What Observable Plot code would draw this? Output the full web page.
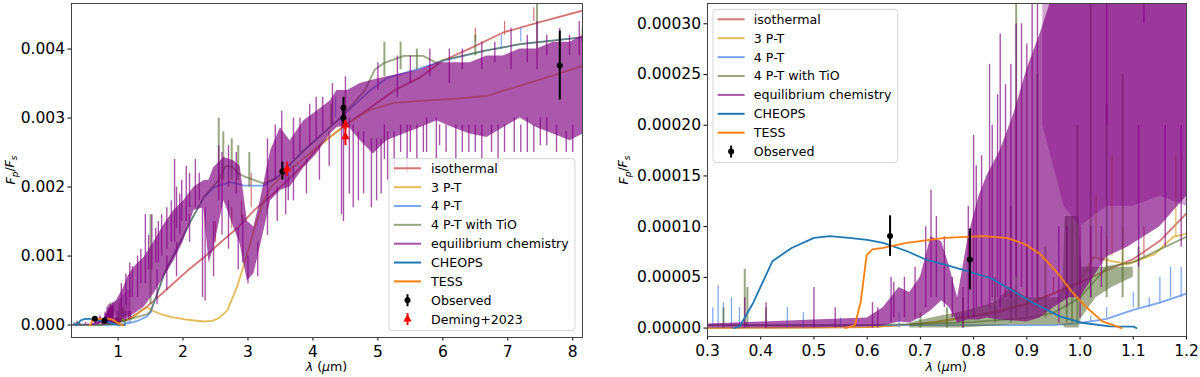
<!DOCTYPE html>
<html><head><meta charset="utf-8">
<script src="https://cdn.jsdelivr.net/npm/d3@7"></script>
<script src="https://cdn.jsdelivr.net/npm/@observablehq/plot@0.6"></script>
<style>
html,body{margin:0;padding:0;background:#fff;}
#wrap{position:relative;width:1200px;height:377px;overflow:hidden;font-family:"DejaVu Sans";}
#wrap svg{position:absolute;top:0;}
</style></head><body><div id="wrap"></div>
<script>
// ---------- data ----------
const legendLabels = ["isothermal","3 P-T","4 P-T","4 P-T with TiO","equilibrium chemistry","CHEOPS","TESS","Observed","Deming+2023"];

const isoX = [0.3,0.6,0.663,0.73,0.79,0.85,0.9,0.95,1.0,1.05,1.1,1.15,1.2,1.3,1.42,1.55,1.81,2.07,2.32,2.58,2.84,3.09,3.35,3.6,3.86,4.12,4.5,4.88,5.25,5.65,6.0,6.42,6.93,7.45,8.16];
const isoY = [0,0.000001,0.0000026,0.000006,0.000011,0.000016,0.000024,0.000034,0.000045,0.000057,0.000068,0.000086,0.000113,0.00017,0.00025,0.00035,0.00057,0.00079,0.00098,0.0012,0.00141,0.00166,0.00187,0.00209,0.00233,0.00262,0.0029,0.00315,0.0034,0.00359,0.00383,0.00401,0.00424,0.00438,0.00456];
const isoSpX  = [0.9,0.95,1.0,1.05,1.12,2.5,2.75,2.9,3.05,6.5,6.95,7.4];
const isoSpLo = [0.000024,0.000034,0.000045,0.000057,0.00007,0.0012,0.0014,0.0015,0.0017,0.0041,0.0042,0.0044];
const isoSpHi = [0.00004,0.00005,0.00007,0.00009,0.0001,0.0015,0.0017,0.0018,0.0022,0.0043,0.0044,0.0046];

const tptX = [0.3,0.6,0.7,0.8,0.9,0.95,1.0,1.025,1.06,1.09,1.14,1.175,1.2,1.25,1.35,1.45,1.55,1.68,1.81,2.07,2.32,2.45,2.55,2.68,2.83,2.94,3.1,3.24,3.35,3.6,3.86,4.12,4.5,4.88,5.25,5.65,6.2,6.68,7.19,7.7,8.16];
const tptY = [0,0.000001,0.000004,0.000012,0.000024,0.000034,0.000046,0.00007,0.000066,0.000063,0.000073,0.00009,0.000093,0.00012,0.0002,0.00026,0.0002,0.00015,0.00012,0.000077,0.000052,0.00006,0.0001,0.00021,0.00055,0.00088,0.0014,0.0018,0.002,0.00222,0.00242,0.00262,0.0029,0.00312,0.00322,0.00325,0.00328,0.00332,0.00347,0.00362,0.00376];
const tptSpX  = [1.03,1.06,1.08,1.18];
const tptSpLo = [0.00007,0.00007,0.00006,0.00009];
const tptSpHi = [0.00013,0.00017,0.0001,0.00017];

const fptX = [0.3,0.6,0.95,1.0,1.05,1.1,1.15,1.2,1.3,1.45,1.5,1.6,1.71,1.91,2.12,2.32,2.48,2.73,2.94,3.24,3.45,3.86,4.12,4.42,4.88,5.14,5.65,6.0,6.67,7.19,8.16];
const fptY = [0.000003,0.000003,0.000003,0.000005,0.000009,0.000018,0.000025,0.000034,0.00006,0.00013,0.00018,0.00045,0.00074,0.00112,0.00151,0.00185,0.002,0.00207,0.00202,0.00202,0.00214,0.00253,0.00275,0.003,0.0034,0.00358,0.00372,0.00383,0.00398,0.00407,0.00417];
const fptSpX  = [0.31,0.32,0.33,0.345,0.36,0.45,0.48,0.55,0.66,1.02,1.05,1.1,1.13,1.15,1.17,1.19,4.35,6.9,7.2];
const fptSpLo = [0,0,0,0,0,0,0,0,0,0.000006,0.00001,0.00002,0.00002,0.000025,0.00003,0.00003,0.003,0.004,0.0041];
const fptSpHi = [0.00002,0.000042,0.000025,0.00003,0.00002,0.00002,0.000015,0.00001,0.000015,0.000012,0.00002,0.000035,0.00003,0.00005,0.00006,0.00006,0.0033,0.0042,0.0043];

const tioX = [0.3,0.6,0.7,0.8,0.9,0.95,1.0,1.05,1.1,1.2,1.3,1.45,1.5,1.6,1.71,1.91,2.12,2.32,2.45,2.55,2.65,2.75,2.85,2.95,3.1,3.24,3.45,3.86,4.12,4.42,4.8,4.95,5.1,5.4,5.7,5.9,6.0,6.67,7.19,8.16];
const tioY = [0.000003,0.000003,0.000004,0.000006,0.00001,0.000015,0.00003,0.00006,0.000065,0.00009,0.00012,0.00016,0.0002,0.00045,0.00074,0.00112,0.00151,0.00185,0.002,0.0021,0.0023,0.0023,0.0022,0.00215,0.0021,0.00205,0.00214,0.00253,0.00275,0.003,0.0034,0.0037,0.0038,0.0039,0.0039,0.0038,0.00384,0.00398,0.00407,0.00417];
const tioBX  = [0.68,0.72,0.78,0.84,0.87,0.9,0.93,0.96,0.968,0.972,0.998,1.003,1.03,1.06,1.1];
const tioBLo = [0,0,0,0.000002,0.000003,0.000003,0.000003,0.000003,0.000003,0,0,0.00001,0.00003,0.00004,0.00005];
const tioBHi = [0.000005,0.00001,0.000016,0.000025,0.00004,0.00003,0.00003,0.00003,0.00004,0.00011,0.00011,0.00006,0.00006,0.00006,0.00006];
const tioSpX  = [0.33,0.37,0.375,0.41,0.7,0.75,0.78,0.84,0.87,0.88,0.9,0.92,0.935,0.975,0.985,0.995,1.02,1.05,1.08,1.11,1.5,2.55,2.62,2.75,2.85,3.02,4.28,5.1,5.35,5.6,6.5,7.45,8.15];
const tioSpLo = [0,0,0,0,0,0,0,0.000005,0.000005,0.00001,0.00001,0.00002,0.00001,0.000005,0.000005,0.000005,0.00003,0.00003,0.00003,0.00002,0.0003,0.002,0.0021,0.0021,0.0021,0.002,0.0029,0.0036,0.0037,0.0037,0.0039,0.004,0.0041];
const tioSpHi = [0.00002,0.000058,0.00004,0.00002,0.000015,0.00002,0.00003,0.00005,0.00012,0.00032,0.00008,0.00025,0.00008,0.00011,0.00011,0.0002,0.00032,0.00022,0.00025,0.00008,0.0016,0.003,0.0028,0.0027,0.0026,0.0025,0.0032,0.0041,0.0041,0.004,0.0042,0.0047,0.0043];

const eqX  = [0.3,0.4,0.5,0.6,0.63,0.66,0.68,0.7,0.72,0.74,0.755,0.77,0.79,0.81,0.825,0.85,0.875,0.9,0.925,0.95,0.98,1.0,1.05,1.09,1.15,1.25,1.4,1.55,1.71,1.86,2.01,2.17,2.32,2.4,2.47,2.63,2.78,2.88,2.99,3.09,3.19,3.35,3.5,3.65,3.86,4.06,4.27,4.37,4.53,4.73,4.93,5.14,5.4,5.65,5.91,6.16,6.42,6.68,6.93,7.19,7.45,7.7,7.96,8.16];
const eqLo = [0,0,0,0.000001,0.000002,0.000006,0.000005,0.00001,0.000017,0.000027,0.00002,0.000005,0.000008,0.000008,0.00001,0.000008,0.000007,0.000006,0.00001,0.00002,0.00003,0.00003,0.00007,0.00008,0.0001,0.00016,0.00026,0.00045,0.0007,0.00093,0.00122,0.00166,0.0017,0.0009,0.0011,0.0018,0.00142,0.00117,0.00064,0.00074,0.00113,0.0018,0.00195,0.002,0.00228,0.00248,0.00277,0.00286,0.0029,0.00267,0.00248,0.00267,0.00277,0.00286,0.00296,0.00286,0.00277,0.00272,0.00286,0.003,0.00286,0.00277,0.00267,0.00277];
const eqHi = [0.000004,0.000006,0.000008,0.00001,0.00002,0.00004,0.000035,0.00005,0.00009,0.000085,0.00006,0.00003,0.00009,0.00013,0.00015,0.000175,0.00021,0.000255,0.00029,0.00033,0.00036,0.0004,0.00048,0.00055,0.0007,0.00084,0.00098,0.0012,0.00146,0.00166,0.0018,0.002,0.00209,0.0021,0.00228,0.00243,0.00238,0.0023,0.00151,0.00142,0.0018,0.00253,0.00286,0.00267,0.00296,0.0031,0.00325,0.0034,0.0034,0.0035,0.00355,0.0036,0.00365,0.0037,0.0038,0.0038,0.0038,0.0039,0.0039,0.004,0.004,0.0041,0.0041,0.0042];
const eqDX  = [0.93,0.97,1.0,1.05,1.1,1.15,1.2];
const eqDLo = [0.0002,0.00012,0.0001,0.00012,0.00012,0.00013,0.00012];
const eqDHi = [0.00033,0.00034,0.00036,0.0004,0.00045,0.0005,0.0005];
const eqSpX  = [0.37,0.41,0.5,0.54,0.61,0.62,0.645,0.65,0.67,0.69,0.71,0.72,0.73,0.745,0.76,0.78,0.79,0.8,0.805,0.815,0.83,0.835,0.845,0.85,0.86,0.87,0.88,0.89,0.9,0.91,0.92,0.96,0.975,1.0,1.02,1.04,1.11,1.16,1.19,
  1.05,1.12,1.18,1.22,1.3,1.35,1.42,1.47,1.52,1.58,1.6,1.62,1.67,1.75,1.75,1.82,1.87,1.9,1.9,1.95,1.98,2.05,2.1,2.1,2.19,2.25,2.3,2.34,2.47,2.55,2.6,2.6,2.7,2.7,2.82,2.85,2.92,3.0,3.15,3.3,3.3,3.42,3.45,3.52,3.58,3.62,3.7,3.7,3.8,3.9,3.95,4.05,4.1,4.15,4.25,4.3,
  4.44,4.47,4.5,4.56,4.62,4.7,4.78,4.9,4.98,5.0,5.05,5.1,5.15,5.25,5.3,5.35,5.45,5.5,5.5,5.6,5.7,5.75,5.8,5.9,5.95,6.05,6.1,6.2,6.3,6.3,6.4,6.5,6.6,6.6,6.75,6.8,6.85,6.95,7.05,7.1,7.2,7.3,7.3,7.4,7.45,7.5,7.6,7.6,7.75,7.8,7.9,7.95,8.0,8.1];
const eqSpLo = [0,0,0,0,0,0,0.000005,0.00001,0.00001,0.00001,0.00002,0.00003,0.00003,0.00002,0.00001,0,0.00001,0.00001,0.00002,0.00002,0.00002,0.00003,0.00003,0.00002,0.00003,0.00003,0.00005,0.00004,0.00003,0.00003,0.00003,0.000005,0.00002,0.00001,0.00003,0.00004,0.00006,0.00008,0.00008,
  0.0002,0.0003,0.0004,0.0004,0.0004,0.0006,0.0006,0.0008,0.0008,0.0009,0.0003,0.0009,0.001,0.0011,0.0005,0.0012,0.0012,0.0014,0.0007,0.0013,0.0015,0.0015,0.0017,0.0012,0.0017,0.0018,0.0004,0.00035,0.0007,0.0018,0.002,0.0013,0.002,0.0011,0.0019,0.0008,0.0009,0.0006,0.0007,0.002,0.0013,0.0021,0.0015,0.0022,0.0016,0.0018,0.0024,0.0018,0.0025,0.0019,0.0026,0.0027,0.0021,0.0028,0.0023,0.0029,
  0.0016,0.0015,0.003,0.0019,0.0017,0.0018,0.0019,0.0017,0.0018,0.0034,0.0019,0.0024,0.0021,0.0022,0.0033,0.0025,0.0022,0.0035,0.0025,0.0024,0.0025,0.0025,0.0036,0.0024,0.0026,0.0025,0.0035,0.0024,0.0037,0.0025,0.0025,0.0025,0.0037,0.0024,0.0025,0.0038,0.0023,0.0025,0.0037,0.0025,0.0025,0.0038,0.0025,0.0025,0.0037,0.0026,0.0039,0.0026,0.0025,0.0039,0.0025,0.0039,0.0025,0.0039];
const eqSpHi = [0.00003,0.000025,0.00004,0.00002,0.000025,0.00002,0.00005,0.000045,0.00005,0.00006,0.0001,0.000136,0.00011,0.00009,0.00005,0.00004,0.00012,0.00019,0.00016,0.00017,0.00026,0.0002,0.00023,0.00029,0.00024,0.00026,0.0003,0.0003,0.00028,0.00032,0.00032,0.0001,0.0001,0.0001,0.0001,0.0001,0.0002,0.0002,0.0002,
  0.0006,0.00074,0.0009,0.00085,0.001,0.0011,0.0016,0.0013,0.0016,0.0014,0.0008,0.0015,0.0016,0.0017,0.001,0.0018,0.0024,0.002,0.0012,0.0019,0.0021,0.0023,0.0022,0.0016,0.0024,0.0022,0.0017,0.0017,0.0015,0.0026,0.0025,0.002,0.0026,0.0018,0.0025,0.0014,0.0016,0.001,0.0012,0.0027,0.002,0.0029,0.002,0.0031,0.0022,0.0022,0.003,0.0023,0.003,0.0024,0.0032,0.0033,0.0026,0.0033,0.0028,0.0035,
  0.003,0.003,0.0036,0.003,0.0029,0.0028,0.0028,0.0027,0.0027,0.0038,0.0027,0.0029,0.0028,0.0028,0.0039,0.0029,0.0029,0.0039,0.0029,0.0029,0.0029,0.003,0.004,0.003,0.0029,0.0029,0.004,0.0029,0.004,0.0029,0.0029,0.0029,0.0041,0.0029,0.0029,0.0041,0.0029,0.0029,0.0043,0.003,0.0029,0.0042,0.003,0.0029,0.0044,0.003,0.0042,0.003,0.0029,0.0043,0.0028,0.0042,0.0029,0.0044];

const cheX = [0.35,0.361,0.386,0.422,0.458,0.5,0.53,0.566,0.6,0.63,0.674,0.71,0.746,0.79,0.833,0.876,0.912,0.962,1.006,1.056,1.1,1.106];
const cheY = [0,0.000002,0.000025,0.000066,0.000079,0.000089,0.0000907,0.000089,0.000087,0.000084,0.000076,0.0000676,0.0000626,0.000056,0.000049,0.000036,0.0000247,0.0000115,0.000005,0.0000016,0.0000015,0];
const tesX = [0.559,0.577,0.588,0.599,0.61,0.63,0.674,0.746,0.818,0.862,0.898,0.926,0.955,0.984,1.013,1.042,1.078];
const tesY = [0,0.000003,0.000026,0.000072,0.0000775,0.000079,0.000084,0.000089,0.0000907,0.000089,0.0000824,0.0000725,0.000056,0.0000363,0.00002,0.0000066,0];

const obsX = [0.643,0.793,3.53,4.47,4.47,7.8];
const obsY = [0.0000907,0.0000676,0.00223,0.00315,0.003,0.00376];
const obsE = [0.00002,0.00003,0.00013,0.00015,0.00013,0.0005];
const demX = [3.6,4.5,4.5];
const demY = [0.00226,0.0029,0.00273];
const demE = [0.0001,0.00007,0.00013];

const leftXTicks = [1,2,3,4,5,6,7,8];
const leftYTicks = [0,0.001,0.002,0.003,0.004];
const rightXTicks = [0.3,0.4,0.5,0.6,0.7,0.8,0.9,1.0,1.1,1.2];
const rightYTicks = [0,0.00005,0.0001,0.00015,0.0002,0.00025,0.0003];

// ---------- styles ----------
const C = {
  iso: {c:"#cd5c5c", o:0.85},
  tpt: {c:"#daa520", o:0.75},
  fpt: {c:"#6495ed", o:0.85},
  tio: {c:"#556b2f", o:0.6},
  eq:  {c:"#800080", o:0.68},
  che: {c:"#1f77b4", o:1},
  tes: {c:"#ff7f0e", o:1}
};

const pts = (xs, ys) => xs.map((x,i)=>({x, y: ys[i]}));
const spk = (xs, lo, hi) => xs.map((x,i)=>({x, y1: lo[i], y2: hi[i]}));
const err = (xs, ys, es) => xs.map((x,i)=>({x, y: ys[i], y1: ys[i]-es[i], y2: ys[i]+es[i]}));

function modelMarks(withDeming){
  const m = [];
  const L = (xs, ys, s) => Plot.lineY(pts(xs,ys), {x:"x", y:"y", stroke:s.c, strokeOpacity:s.o, strokeWidth:1.8, clip:true});
  const S = (xs, lo, hi, s, w) => Plot.ruleX(spk(xs,lo,hi), {x:"x", y1:"y1", y2:"y2", stroke:s.c, strokeOpacity:s.o, strokeWidth:w||1.2, clip:true});
  m.push(L(isoX, isoY, C.iso), S(isoSpX, isoSpLo, isoSpHi, C.iso));
  m.push(L(tptX, tptY, C.tpt), S(tptSpX, tptSpLo, tptSpHi, C.tpt));
  m.push(L(fptX, fptY, C.fpt), S(fptSpX, fptSpLo, fptSpHi, C.fpt));
  m.push(L(tioX, tioY, C.tio), S(tioSpX, tioSpLo, tioSpHi, C.tio, 2));
  m.push(Plot.areaY(spk(tioBX, tioBLo, tioBHi), {x:"x", y1:"y1", y2:"y2", fill:C.tio.c, fillOpacity:0.55, clip:true}));
  m.push(Plot.areaY(spk(eqX, eqLo, eqHi), {x:"x", y1:"y1", y2:"y2", fill:C.eq.c, fillOpacity:0.66, clip:true}));
  m.push(Plot.areaY(spk(eqDX, eqDLo, eqDHi), {x:"x", y1:"y1", y2:"y2", fill:C.eq.c, fillOpacity:0.35, clip:true}));
  m.push(S(eqSpX, eqSpLo, eqSpHi, C.eq, 1.4));
  m.push(L(cheX, cheY, C.che), L(tesX, tesY, C.tes));
  m.push(Plot.ruleX(err(obsX,obsY,obsE), {x:"x", y1:"y1", y2:"y2", stroke:"black", strokeWidth:2, clip:true}));
  m.push(Plot.dot(err(obsX,obsY,obsE), {x:"x", y:"y", r:3, fill:"black", clip:true}));
  if (withDeming){
    m.push(Plot.ruleX(err(demX,demY,demE), {x:"x", y1:"y1", y2:"y2", stroke:"red", strokeWidth:2, clip:true}));
    m.push(Plot.dot(err(demX,demY,demE), {x:"x", y:"y", r:3.2, symbol:"triangle", fill:"red", clip:true}));
  }
  return m;
}

const baseStyle = {fontFamily:"DejaVu Sans", fontSize:"15.5px", color:"black", background:"transparent", overflow:"visible"};

const left = Plot.plot({
  width:600, height:377, marginLeft:71, marginRight:18, marginTop:3, marginBottom:40,
  style: baseStyle,
  x:{domain:[0.283,8.15]}, y:{domain:[-0.00018,0.00466]},
  marks:[
    ...modelMarks(true),
    Plot.axisX({ticks:leftXTicks, tickFormat:d=>String(d), tickSize:3.5, tickPadding:4.5, label:null}),
    Plot.axisY({ticks:leftYTicks, tickFormat:d3.format(".3f"), tickSize:3.5, tickPadding:3, label:null}),
    Plot.frame({stroke:"#444", strokeWidth:1})
  ]
});
const right = Plot.plot({
  width:600, height:377, marginLeft:107, marginRight:14, marginTop:3, marginBottom:41,
  style: baseStyle,
  x:{domain:[0.3,1.2]}, y:{domain:[-0.0000083,0.00032]},
  marks:[
    ...modelMarks(false),
    Plot.axisX({ticks:rightXTicks, tickFormat:d3.format(".1f"), tickSize:3.5, tickPadding:4.5, label:null}),
    Plot.axisY({ticks:rightYTicks, tickFormat:d3.format(".5f"), tickSize:3.5, tickPadding:3, label:null}),
    Plot.frame({stroke:"#444", strokeWidth:1})
  ]
});

const wrap = document.getElementById("wrap");
left.style.left = "0px"; right.style.left = "600px";
wrap.appendChild(left); wrap.appendChild(right);

// ---------- axis labels and legends ----------
function axisLabels(svg, xlx, xly, ylx, yly){
  const s = d3.select(svg);
  const xt = s.append("text").attr("x", xlx).attr("y", xly).attr("text-anchor","middle")
    .attr("font-size", "12.6px").attr("font-family","DejaVu Sans").attr("fill","black");
  xt.append("tspan").attr("font-style","italic").text("λ");
  xt.append("tspan").text(" (");
  xt.append("tspan").attr("font-style","italic").text("μ");
  xt.append("tspan").text("m)");
  const yt = s.append("text").attr("transform", `translate(${ylx},${yly}) rotate(-90)`).attr("text-anchor","middle")
    .attr("font-size", "12.6px").attr("font-family","DejaVu Sans").attr("fill","black");
  yt.append("tspan").attr("font-style","italic").text("F");
  yt.append("tspan").attr("font-style","italic").attr("font-size","0.7em").attr("dy","0.3em").text("p");
  yt.append("tspan").attr("dy","-0.3em").text("/");
  yt.append("tspan").attr("font-style","italic").text("F");
  yt.append("tspan").attr("font-style","italic").attr("font-size","0.7em").attr("dy","0.3em").text("s");
}
axisLabels(left, 326.5, 371, 15, 170);
axisLabels(right, 346.2, 371, 28, 170);

const legendStyles = [C.iso, C.tpt, C.fpt, C.tio, C.eq, C.che, C.tes, {c:"black",o:1}, {c:"red",o:1}];
function legend(svg, n, bx, by, bw, bh, hx, tx, ry, dy){
  const g = d3.select(svg).append("g").attr("text-anchor","start");
  g.append("rect").attr("x",bx).attr("y",by).attr("width",bw).attr("height",bh).attr("rx",3)
    .attr("fill","white").attr("fill-opacity",0.8).attr("stroke","#d5d5d5").attr("stroke-width",1);
  for (let i=0;i<n;i++){
    const y = ry + dy*i, st = legendStyles[i];
    if (i < 7){
      g.append("line").attr("x1",hx).attr("x2",hx+27).attr("y1",y).attr("y2",y)
        .attr("stroke",st.c).attr("stroke-opacity",st.o).attr("stroke-width",2);
    } else {
      const cx = hx+13.5;
      g.append("line").attr("x1",cx).attr("x2",cx).attr("y1",y-6).attr("y2",y+6).attr("stroke",st.c).attr("stroke-width",2);
      if (i === 7) g.append("circle").attr("cx",cx).attr("cy",y).attr("r",3).attr("fill",st.c);
      else g.append("path").attr("d",d3.symbol(d3.symbolTriangle, 30)()).attr("transform",`translate(${cx},${y})`).attr("fill",st.c);
    }
    g.append("text").attr("x",tx).attr("y",y).attr("dy","0.35em").attr("font-size","12.6px")
      .attr("text-anchor","start").attr("font-family","DejaVu Sans").attr("fill","black").text(legendLabels[i]);
  }
}
legend(left, 9, 389, 158.7, 186, 172, 394, 431, 168.3, 18.85);
legend(right, 8, 113, 9.3, 184.7, 153.4, 117.6, 153.8, 19.3, 18.9);
</script></body></html>
